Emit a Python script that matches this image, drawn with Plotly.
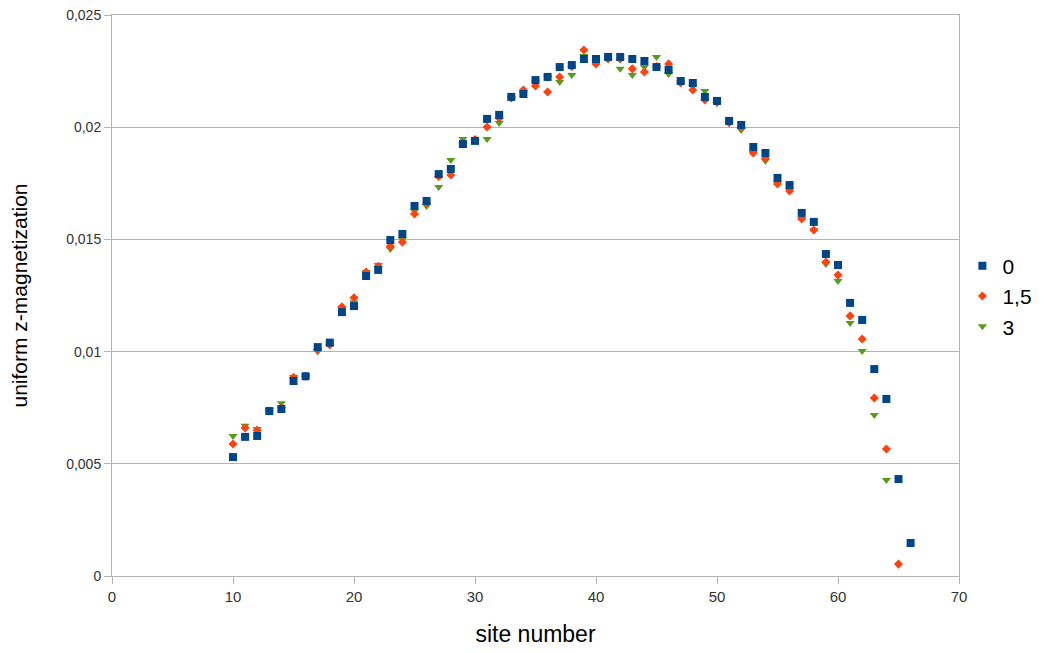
import plotly.graph_objects as go

sites_0 = list(range(10, 67))
mag_0 = [0.0053, 0.0062, 0.00624, 0.00735, 0.00744, 0.00869, 0.0089, 0.0102, 0.0104, 0.01176,
         0.01203, 0.01337, 0.01364, 0.01497, 0.01524, 0.01649, 0.01671, 0.01791, 0.01814, 0.01925,
         0.01939, 0.02037, 0.02055, 0.02135, 0.02148, 0.0221, 0.02224, 0.02268, 0.02277, 0.02304,
         0.02304, 0.02313, 0.02313, 0.02304, 0.02295, 0.02268, 0.02255, 0.02206, 0.02197, 0.02135,
         0.02117, 0.02028, 0.0201, 0.01912, 0.01885, 0.01774, 0.01742, 0.01618, 0.01578, 0.01435,
         0.01386, 0.01217, 0.01141, 0.00922, 0.00789, 0.00432, 0.00147]

sites_15 = list(range(10, 66))
mag_15 = [0.00588, 0.0066, 0.0065, 0.00735, 0.0075, 0.00885, 0.0089, 0.0101, 0.0103, 0.0120,
          0.0124, 0.01355, 0.0138, 0.0147, 0.01488, 0.01613, 0.0166, 0.0178, 0.01787, 0.0193,
          0.01945, 0.02001, 0.0204, 0.0213, 0.02166, 0.02184, 0.02157, 0.02224, 0.0227, 0.02344,
          0.02282, 0.02304, 0.02304, 0.0226, 0.02246, 0.0227, 0.02282, 0.02197, 0.02166, 0.02121,
          0.0211, 0.0202, 0.02, 0.01885, 0.0186, 0.01747, 0.01716, 0.01591, 0.01542, 0.01399,
          0.01341, 0.01159, 0.01056, 0.00793, 0.00566, 0.00053]

sites_3 = list(range(10, 65))
mag_3 = [0.00624, 0.0067, 0.00655, 0.0074, 0.0077, 0.00887, 0.0089, 0.0100, 0.0103, 0.0119,
         0.0122, 0.01355, 0.01386, 0.01457, 0.0150, 0.01627, 0.01649, 0.01733, 0.01854, 0.01947,
         0.01947, 0.01947, 0.02019, 0.0213, 0.0215, 0.022, 0.0222, 0.02201, 0.02233, 0.02317,
         0.0229, 0.0231, 0.0226, 0.02233, 0.02268, 0.02313, 0.02237, 0.022, 0.0218, 0.02161,
         0.0211, 0.0202, 0.01988, 0.01885, 0.0185, 0.0175, 0.0172, 0.0159, 0.0154, 0.0139,
         0.01315, 0.01128, 0.01003, 0.00717, 0.00428]

fig = go.Figure()
fig.add_trace(go.Scatter(x=sites_3, y=mag_3, mode="markers", name="3", legendrank=3,
                         marker=dict(symbol="triangle-down", size=8, color="#579d1c")))
fig.add_trace(go.Scatter(x=sites_15, y=mag_15, mode="markers", name="1,5", legendrank=2,
                         marker=dict(symbol="diamond", size=7, color="#ff420e")))
fig.add_trace(go.Scatter(x=sites_0, y=mag_0, mode="markers", name="0", legendrank=1,
                         marker=dict(symbol="square", size=8, color="#004586")))

axis_common = dict(showline=True, linecolor="#b3b3b3", linewidth=1, mirror=True,
                   ticks="outside", ticklen=7, tickcolor="#b3b3b3", automargin=False,
                   zeroline=False)

fig.update_layout(
    width=1051, height=653,
    margin=dict(l=112, r=92, t=15, b=77),
    paper_bgcolor="white", plot_bgcolor="white",
    font=dict(family="Liberation Sans, Arial, sans-serif", color="#000000"),
    separators=",.",
    xaxis=dict(range=[0, 70], dtick=10, showgrid=False,
               tickfont=dict(size=15, color="#333333"),
               title=dict(text="site number", font=dict(size=23), standoff=21), **axis_common),
    yaxis=dict(range=[0, 0.025], dtick=0.005, showgrid=True, gridcolor="#b3b3b3",
               tickfont=dict(size=14, color="#333333"),
               title=dict(text="uniform z-magnetization", font=dict(size=21), standoff=32),
               **axis_common),
    legend=dict(x=1.004, xanchor="left", y=0.499, yanchor="middle",
                font=dict(size=21), itemwidth=30, bgcolor="rgba(0,0,0,0)"),
)

fig.write_html("out.html", config={"displayModeBar": False},
               post_script="document.body.style.margin='0';")
